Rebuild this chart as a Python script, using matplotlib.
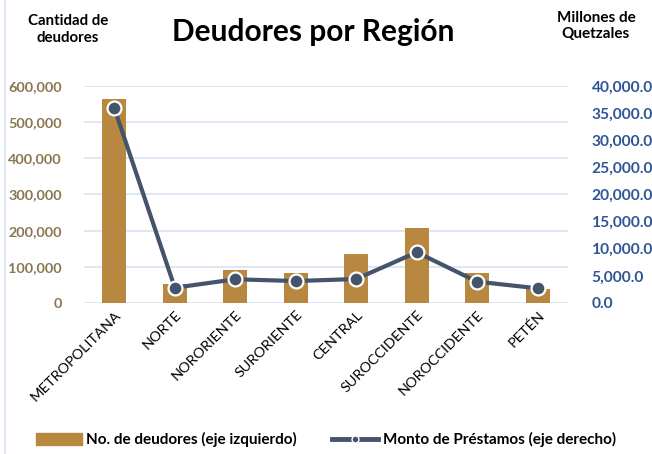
import numpy as np
import matplotlib.pyplot as plt
from matplotlib.lines import Line2D
from matplotlib.patches import Patch

regiones = ["METROPOLITANA", "NORTE", "NORORIENTE", "SURORIENTE",
            "CENTRAL", "SUROCCIDENTE", "NOROCCIDENTE", "PETÉN"]
deudores = [564000, 52500, 91000, 84000, 135500, 208000, 84000, 38700]
monto = [35900, 2820, 4370, 4050, 4420, 9350, 3930, 2710]

bar_color = "#B98840"
line_color = "#44546A"
left_col = "#8A7650"
right_col = "#2F5597"
grid_col = "#D9E1F2"

plt.rcParams["font.family"] = ["Lato", "DejaVu Sans"]

fig = plt.figure(figsize=(6.52, 4.54), dpi=100)
ax = fig.add_axes([0.129, 0.3326, 0.742, 0.478])
ax2 = ax.twinx()

x = np.arange(len(regiones))
ax.bar(x, deudores, width=0.4, color=bar_color, zorder=2)
ax2.plot(x, monto, color=line_color, lw=3, marker="o", ms=10,
         mfc=line_color, mec="white", mew=1.6, zorder=3)

ax.set_xlim(-0.5, len(regiones) - 0.5)
ax.set_ylim(0, 600000)
ax2.set_ylim(0, 40000)
lt = np.arange(0, 600001, 100000)
rt = np.arange(0, 40001, 5000)
ax.set_yticks(lt, labels=[f"{v:,.0f}" for v in lt], fontweight="bold")
ax2.set_yticks(rt, labels=[f"{v:,.1f}" for v in rt], fontweight="bold")

ax.grid(axis="y", color=grid_col, lw=1.2, zorder=0)
for a in (ax, ax2):
    for s in a.spines.values():
        s.set_visible(False)
    a.tick_params(length=0)

ax.tick_params(axis="y", labelcolor=left_col, labelsize=10.4, pad=16)
ax2.tick_params(axis="y", labelcolor=right_col, labelsize=11.2, pad=17)

ax.set_xticks(x)
ax.set_xticklabels(regiones, rotation=45, ha="right", rotation_mode="anchor",
                   fontsize=10.4)
ax.tick_params(axis="x", pad=4)

fig.text(0.48, 0.93, "Deudores por Región", ha="center", va="center",
         fontsize=21.5, fontweight="bold")
fig.text(0.104, 0.935, "Cantidad de\ndeudores", ha="center", va="center",
         fontsize=10.8, fontweight="bold", linespacing=1.25)
fig.text(0.914, 0.942, "Millones de\nQuetzales", ha="center", va="center",
         fontsize=11, fontweight="bold", linespacing=1.2)

handles = [Patch(color=bar_color),
           Line2D([0], [0], color=line_color, lw=3.5, marker="o", ms=5,
                  mfc=line_color, mec="white", mew=1)]
fig.legend(handles, ["No. de deudores (eje izquierdo)",
                     "Monto de Préstamos (eje derecho)"],
           loc="center", bbox_to_anchor=(0.5, 0.031), ncol=2, frameon=False,
           prop={"weight": "bold", "size": 11}, handlelength=3.0,
           handleheight=0.8, handletextpad=0.3, columnspacing=2.3)

fig.add_artist(Line2D([0.008, 0.008], [0, 1], color=grid_col, lw=1.2))

fig.savefig("out.png", dpi=100)
